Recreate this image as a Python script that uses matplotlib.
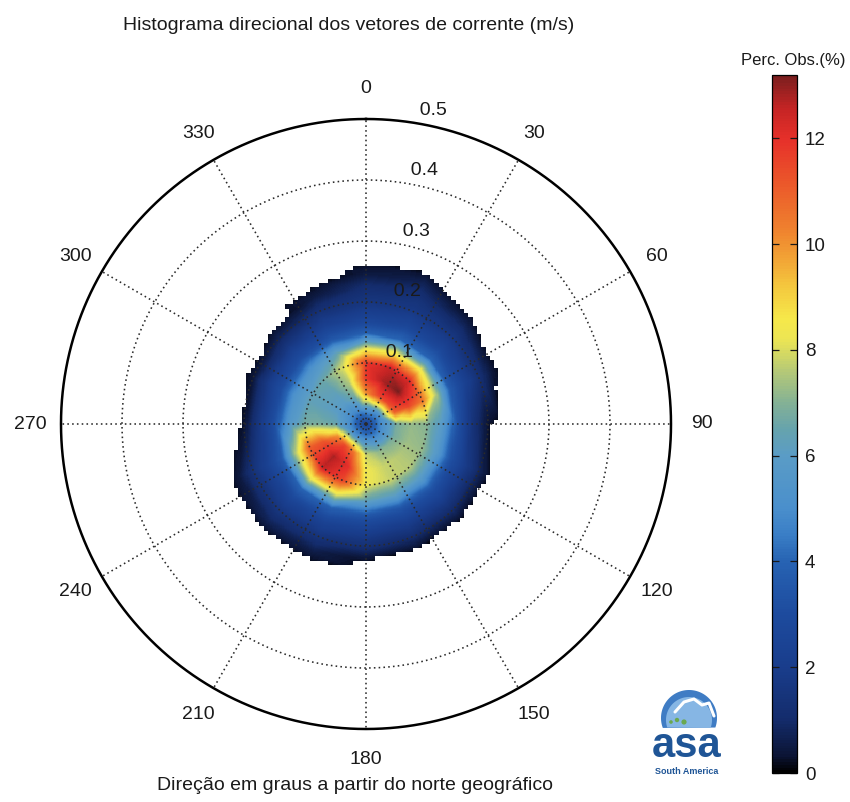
import numpy as np
import matplotlib
matplotlib.use("Agg")
import matplotlib.pyplot as plt
import matplotlib.tri as mtri
from matplotlib.colors import LinearSegmentedColormap
from matplotlib.patches import Circle, Polygon

plt.rcParams['font.family'] = ['Liberation Sans', 'DejaVu Sans']

# ---- data: percentage of observations per direction / speed class ----
directions = np.arange(0, 360, 22.5)          # degrees clockwise from north
speeds = [0.025, 0.05, 0.075, 0.1, 0.125, 0.15, 0.175, 0.2, 0.225, 0.25, 0.275]  # m/s
pct_center = 2.5

pct_N   = [5.5, 10.0, 11.8, 11.8, 8.0, 3.8, 2.4, 1.6, 1.1, 0.4, 0.0]
pct_NNE = [5.5, 11.5, 12.8, 12.5, 8.6, 4.0, 2.6, 1.8, 1.3, 0.7, 0.0]
pct_NE  = [5.2, 11.5, 13.2, 12.2, 8.6, 4.0, 2.6, 1.7, 0.9, 0.1, 0.0]
pct_ENE = [5.0, 11.0, 11.5, 10.5, 7.5, 3.6, 2.3, 1.3, 0.35, 0.0, 0.0]
pct_E   = [5.0, 6.8, 7.2, 7.0, 5.8, 3.3, 1.4, 0.3, 0.0, 0.0, 0.0]
pct_ESE = [4.8, 6.8, 7.3, 7.2, 5.8, 3.3, 2.0, 0.9, 0.0, 0.0, 0.0]
pct_SE  = [4.8, 7.0, 7.6, 7.6, 6.0, 3.4, 2.1, 1.0, 0.05, 0.0, 0.0]
pct_SSE = [4.8, 7.2, 7.8, 7.8, 6.2, 3.4, 2.1, 1.1, 0.1, 0.0, 0.0]
pct_S   = [5.0, 7.8, 8.3, 8.3, 6.4, 3.5, 2.2, 1.3, 0.2, 0.0, 0.0]
pct_SSW = [5.2, 10.5, 12.0, 11.5, 8.2, 3.8, 2.4, 1.5, 0.6, 0.0, 0.0]
pct_SW  = [5.2, 11.5, 12.8, 12.6, 8.6, 4.0, 2.5, 1.6, 0.8, 0.0, 0.0]
pct_WSW = [5.0, 10.0, 11.2, 11.0, 7.6, 3.6, 2.3, 1.4, 0.45, 0.0, 0.0]
pct_W   = [4.8, 6.5, 6.8, 6.8, 5.6, 3.2, 1.7, 0.3, 0.0, 0.0, 0.0]
pct_WNW = [4.8, 6.0, 6.2, 6.3, 5.3, 3.1, 1.8, 0.4, 0.0, 0.0, 0.0]
pct_NW  = [4.8, 6.0, 6.3, 6.6, 5.4, 3.2, 1.9, 0.8, 0.0, 0.0, 0.0]
pct_NNW = [5.0, 6.8, 7.6, 8.0, 6.4, 3.5, 2.2, 1.3, 0.5, 0.0, 0.0]

pct_rows = [pct_N, pct_NNE, pct_NE, pct_ENE, pct_E, pct_ESE, pct_SE, pct_SSE,
            pct_S, pct_SSW, pct_SW, pct_WSW, pct_W, pct_WNW, pct_NW, pct_NNW]

angle_ticks = list(range(0, 360, 30))
ring_ticks = [0.1, 0.2, 0.3, 0.4, 0.5]
cbar_ticks = [0, 2, 4, 6, 8, 10, 12]
vmax = 13.2
min_pct = 0.25

# ---- colour scale ----
stops = [(0.0, '#000000'), (0.3, '#0b1434'), (1.0, '#142c6c'), (2.0, '#193d8c'),
         (3.0, '#1d4b9e'), (4.0, '#2763b3'), (4.5, '#3a7ec6'), (5.0, '#4a8fcc'),
         (6.0, '#5a9cc6'), (6.5, '#66a3ad'), (7.0, '#84b195'), (7.6, '#b5c977'),
         (8.2, '#ece554'), (8.6, '#f6e84a'), (9.2, '#f4c83e'), (9.7, '#f2a636'),
         (10.3, '#ef812e'), (11.2, '#eb562a'), (12.0, '#e6302a'), (12.6, '#c42424'),
         (13.2, '#7a1e1e')]
cmap = LinearSegmentedColormap.from_list('perc', [(v / vmax, c) for v, c in stops])

# ---- interpolate the polar histogram onto a cartesian grid ----
th = np.deg2rad(directions)
node_x = [0.0]
node_y = [0.0]
node_z = [pct_center]
for t, row in zip(th, pct_rows):
    for r, v in zip(speeds, row):
        node_x.append(r * np.sin(t))
        node_y.append(r * np.cos(t))
        node_z.append(v)
tri = mtri.Triangulation(node_x, node_y)
interp = mtri.LinearTriInterpolator(tri, np.array(node_z))

coarse = 0.007
ncell = 82
sub = 4
half = coarse * ncell / 2
cc = -half + coarse * (np.arange(ncell) + 0.5)
Xc, Yc = np.meshgrid(cc, cc)
Zc = interp(Xc, Yc)
mask_c = np.ma.filled(Zc, 0.0) < min_pct

fe = np.linspace(-half, half, ncell * sub + 1)
fc = 0.5 * (fe[:-1] + fe[1:])
Xf, Yf = np.meshgrid(fc, fc)
Zf = interp(Xf, Yf)
mask_f = np.kron(mask_c, np.ones((sub, sub), dtype=bool)) | np.ma.getmaskarray(Zf)
Zf = np.ma.array(np.clip(np.ma.filled(Zf, 0.0), 0, None), mask=mask_f)

# ---- figure ----
W, H = 850, 802
fig = plt.figure(figsize=(W / 100, H / 100), dpi=100)
fig.patch.set_facecolor('white')

over = fig.add_axes([0, 0, 1, 1])
over.set_xlim(0, W)
over.set_ylim(H, 0)
over.axis('off')

ax = fig.add_axes([0, 12 / H, 732 / W, 732 / H])
ax.set_xlim(-0.6, 0.6)
ax.set_ylim(-0.6, 0.6)
ax.axis('off')

mesh = ax.pcolormesh(fe, fe, Zf, cmap=cmap, vmin=0, vmax=vmax, shading='flat',
                     antialiased=False, edgecolors='none', zorder=1)

dot = (0, (1, 2.0))
grid_col = '#2a2a2a'
tt = np.linspace(0, 2 * np.pi, 721)
for r in ring_ticks[:-1]:
    ax.plot(r * np.sin(tt), r * np.cos(tt), ls=dot, color=grid_col, lw=1.15, zorder=3)
rmax = ring_ticks[-1]
for a in angle_ticks:
    ar = np.deg2rad(a)
    ax.plot([0, rmax * np.sin(ar)], [0, rmax * np.cos(ar)], ls=dot, color=grid_col,
            lw=1.15, zorder=3)
ax.plot(rmax * np.sin(tt), rmax * np.cos(tt), color='black', lw=1.8, zorder=4)

for a in angle_ticks:
    ar = np.deg2rad(a)
    ax.text(1.1 * rmax * np.sin(ar), 1.1 * rmax * np.cos(ar), str(a), ha='center',
            va='center', fontsize=14, color='#1a1a1a', zorder=5)

lab_ang = np.deg2rad(8)
for r in ring_ticks:
    rr = r + 0.005
    ax.text(rr * np.sin(lab_ang), rr * np.cos(lab_ang), '  %g' % r, ha='left',
            va='bottom', fontsize=14, color='#1a1a1a', zorder=5)

over.text(349, 26, 'Histograma direcional dos vetores de corrente (m/s)', ha='center',
          va='center', fontsize=14, color='#1a1a1a')
over.text(355, 785, 'Direção em graus a partir do norte geográfico', ha='center',
          va='center', fontsize=14, color='#1a1a1a')

# ---- colour bar ----
cax = fig.add_axes([771.5 / W, (H - 773) / H, 25 / W, (773 - 75) / H])
cb = fig.colorbar(mesh, cax=cax, ticks=cbar_ticks)
cb.outline.set_linewidth(0.9)
cax.tick_params(axis='y', direction='in', left=True, right=True, length=5, width=0.9,
                labelsize=13.5, pad=6, colors='#1a1a1a')
over.text(793, 60, 'Perc. Obs.(%)', ha='center', va='center', fontsize=12,
          color='#1a1a1a')

# ---- company mark ----
ang = np.linspace(0, 2 * np.pi, 200)
dome_cx, dome_cy, dome_r, base = 689, 718, 28, 728
pts = [(dome_cx + dome_r * np.cos(a), dome_cy + dome_r * np.sin(a)) for a in ang
       if dome_cy + dome_r * np.sin(a) <= base]
over.add_patch(Polygon(pts, closed=True, facecolor='#3f7cc4', edgecolor='none'))
pts2 = [(dome_cx + (dome_r - 5) * np.cos(a), dome_cy + 2 + (dome_r - 5) * np.sin(a))
        for a in ang if dome_cy + 2 + (dome_r - 5) * np.sin(a) <= base]
over.add_patch(Polygon(pts2, closed=True, facecolor='#86b6e4', edgecolor='none'))
over.plot([675, 684, 694, 702, 709, 714], [712, 702, 699, 705, 703, 716],
          color='white', lw=2.2, solid_capstyle='round')
for cx, cy, rad in [(671, 722, 1.8), (677, 720, 2.2), (684, 722, 2.6)]:
    over.add_patch(Circle((cx, cy), rad, facecolor='#6aa84f', edgecolor='none'))
over.text(687, 746, 'asa', ha='center', va='center', fontsize=30, fontweight='bold',
          color='#1f5596')
over.text(687, 771, 'South America', ha='center', va='center', fontsize=6.5,
          fontweight='bold', color='#1f5596')

fig.savefig('out.png', dpi=100, facecolor='white')
